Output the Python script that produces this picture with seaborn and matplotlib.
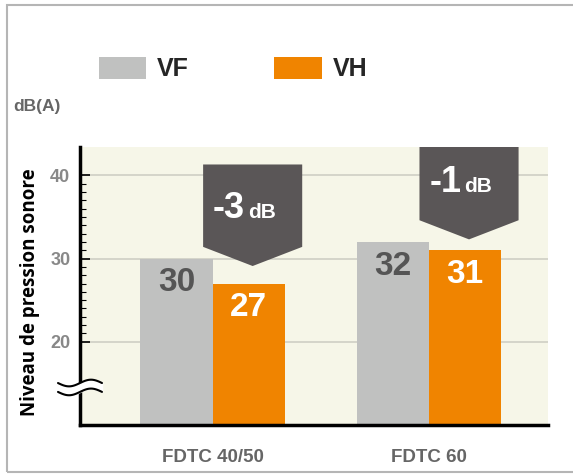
import numpy as np
import pandas as pd
import matplotlib
matplotlib.use("Agg")
import matplotlib.pyplot as plt
from matplotlib.patches import Polygon, Rectangle
from matplotlib.ticker import FixedLocator
import seaborn as sns

# données
modeles = ["FDTC 40/50", "FDTC 60"]
series = ["VF", "VH"]
vf = [30, 32]
vh = [27, 31]
gains = ["-3", "-1"]

gris = "#c0c1c0"
orange = "#f08400"
sombre = "#5a5657"
fond = "#f6f6e8"

df = pd.DataFrame({"modele": modeles * 2,
                   "serie": [series[0]] * 2 + [series[1]] * 2,
                   "db": vf + vh})

sns.set_style("white")
plt.rcParams["font.family"] = ["Liberation Sans", "DejaVu Sans"]

fig = plt.figure(figsize=(5.73, 4.74), dpi=100)
ax = fig.add_axes([80/573, 1-425/474, 468/573, 278/474])
ax.set_facecolor(fond)

sns.barplot(data=df, x="modele", y="db", hue="serie", palette=[gris, orange],
            width=0.667, saturation=1, linewidth=0, ax=ax, zorder=2)
ax.set_xlim(-0.613, 1.55)
ax.set_ylim(10, 43.4)
ax.set_xlabel("")
ax.set_ylabel("")

# valeurs dans les barres
for cont, col in zip(ax.containers, ["#555555", "white"]):
    for p in cont:
        h = p.get_height()
        ax.text(p.get_x() + p.get_width()/2, h - 2.9, f"{h:.0f}", ha="center", va="center",
                color=col, fontsize=24, fontweight="bold", zorder=4)

# bulles -3dB / -1dB
tip_off = [2.1, 1.3]
for i, (g, top) in enumerate(zip(gains, vh)):
    cx = i + 0.185
    tip = top + tip_off[i]
    hw = 0.229
    pts = [(cx-hw, tip+2.3), (cx, tip), (cx+hw, tip+2.3), (cx+hw, tip+12.2), (cx-hw, tip+12.2)]
    ax.add_patch(Polygon(pts, closed=True, fc=sombre, ec="none", zorder=3))
    ty = tip + 2.3 + (12.2 - 2.3)/2 - 1.5
    ax.text(cx - 0.035, ty, g, ha="right", va="baseline", color="white",
            fontsize=26, fontweight="bold", zorder=4)
    ax.text(cx - 0.022, ty, "dB", ha="left", va="baseline", color="white",
            fontsize=15, fontweight="bold", zorder=4)

# axes
ax.set_yticks([20, 30, 40])
ax.yaxis.set_minor_locator(FixedLocator(range(21, 40)))
ax.yaxis.grid(True, which="major", color="#cfcfc4", lw=1.2)
ax.set_axisbelow(True)
ax.tick_params(axis="y", which="major", direction="in", length=7, width=1.2, color="black",
               labelsize=13, labelcolor="#888888", pad=7, left=True)
ax.tick_params(axis="y", which="minor", direction="in", length=4, width=0.8, color="black", left=True)
ax.tick_params(axis="x", length=0, labelsize=13.5, labelcolor="#666666", pad=17)
for lbl in ax.get_yticklabels() + ax.get_xticklabels():
    lbl.set_fontweight("bold")

sns.despine(ax=ax)
for s in ["left", "bottom"]:
    ax.spines[s].set_color("black")
    ax.spines[s].set_linewidth(2.5)

# coupure d'axe
t = np.linspace(-1, 1, 60)
xs = t * 0.047
y_hi = 0.151 + 0.012 * np.sin(np.pi * t)
y_lo = 0.119 + 0.012 * np.sin(np.pi * t)
ax.fill_between(xs, y_lo, y_hi, transform=ax.transAxes, color="white", clip_on=False, zorder=5)
for ys in (y_hi, y_lo):
    ax.plot(xs, ys, transform=ax.transAxes, color="black", lw=1.5, clip_on=False, zorder=6)

# légende
leg = ax.get_legend()
handles = leg.legend_handles
labels = [t.get_text() for t in leg.get_texts()]
leg.remove()
fig.legend(handles, labels, loc="center left", bbox_to_anchor=(98.7/573, 1-69/474), ncol=2,
           frameon=False, prop={"weight": "bold", "size": 18}, handlelength=1.9, handleheight=0.97,
           handletextpad=0.44, columnspacing=3.4, borderpad=0, borderaxespad=0)

fig.text(13/573, 1-107/474, "dB(A)", ha="left", va="center", fontsize=12.5,
         fontweight="bold", color="#666666")
fig.text(30/573, 1-292.5/474, "Niveau de pression sonore", rotation=90, ha="center", va="center",
         fontsize=13.5, family=["Open Sans", "DejaVu Sans"], fontweight="bold", color="black")

fig.add_artist(Rectangle((7/573, 1-471.7/474), 1.05, (471.7-5)/474, transform=fig.transFigure,
                         fill=False, ec="#b5b5b5", lw=1.5))

fig.savefig("out.png", dpi=100)
